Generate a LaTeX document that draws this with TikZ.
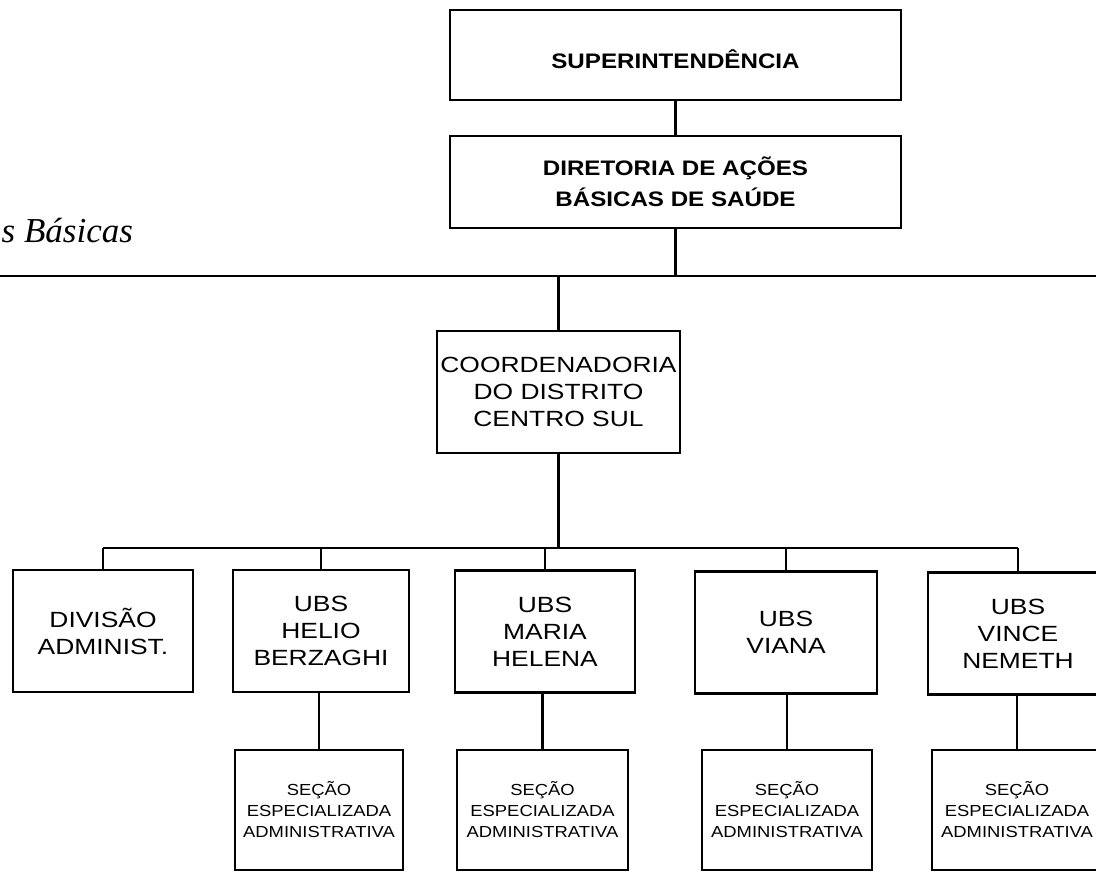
\documentclass[tikz,border=0pt]{standalone}
\usepackage{fontspec}
\setmainfont{Liberation Sans}
\newfontfamily\boxfont[FakeStretch=1.15]{Liberation Sans}
\newfontfamily\wideboxfont[FakeStretch=1.2]{Liberation Sans}
\newfontfamily\seriffont{Liberation Serif}
\begin{document}
\begin{tikzpicture}[x=1pt,y=-1pt,
  box/.style={draw, line width=2.6pt, rectangle, inner sep=0pt, align=center,
    font=\wideboxfont\fontsize{22}{27}\selectfont},
  bbox/.style={box, font=\boxfont\bfseries\fontsize{21}{31}\selectfont},
  sbox/.style={box, font=\boxfont\fontsize{16}{21}\selectfont,
    minimum height=120pt},
  ubox/.style={box, minimum height=122pt},
  conn/.style={line width=2.4pt}]
\useasboundingbox (0,0) rectangle (1096,872);
\clip (0,0) rectangle (1096,872);

% top boxes
\node[bbox, minimum width=451pt, minimum height=90pt, text height=28pt, text depth=0pt] (sup) at (675.5,55) {SUPERINTENDÊNCIA};
\node[bbox, minimum width=451pt, minimum height=92pt] (dir) at (675.5,182) {DIRETORIA DE AÇÕES\\BÁSICAS DE SAÚDE};

% italic caption
\node[font=\seriffont\itshape\fontsize{35}{40}\selectfont, anchor=base west, inner sep=0pt] (lbl) at (1.5,243) {s Básicas};

% horizontal rule
\coordinate (hl) at (0,276);
\coordinate (hr) at (1096,276);

% coordenadoria
\node[box, minimum width=243pt, minimum height=122pt] (coord) at (558.5,392) {COORDENADORIA\\DO DISTRITO\\CENTRO SUL};

% bus
\coordinate (busy) at (0,548);

% second row
\node[ubox, minimum width=180pt] (div) at (103,631) {DIVISÃO\\ADMINIST.};
\node[ubox, minimum width=176pt] (helio) at (321,631) {UBS\\HELIO\\BERZAGHI};
\node[ubox, minimum width=180pt] (maria) at (545,631.5) {UBS\\MARIA\\HELENA};
\node[ubox, minimum width=182pt] (viana) at (786,632.5) {UBS\\VIANA};
\node[ubox, minimum width=180pt] (vince) at (1018,633.5) {UBS\\VINCE\\NEMETH};

% third row
\node[sbox, minimum width=168pt] (s1) at (319,810) {SEÇÃO\\ESPECIALIZADA\\ADMINISTRATIVA};
\node[sbox, minimum width=171pt] (s2) at (542.5,810) {SEÇÃO\\ESPECIALIZADA\\ADMINISTRATIVA};
\node[sbox, minimum width=170pt] (s3) at (787,810) {SEÇÃO\\ESPECIALIZADA\\ADMINISTRATIVA};
\node[sbox, minimum width=170pt] (s4) at (1017,810) {SEÇÃO\\ESPECIALIZADA\\ADMINISTRATIVA};

% connectors
\draw[conn] (sup) -- (dir);
\draw[conn] (hl) -- (hr);
\draw[conn] (dir.south) -- (dir.south |- hl);
\draw[conn] (coord.north) -- (coord.north |- hl);
\draw[conn] (coord.south) -- (coord.south |- busy);
\draw[conn] (div.north |- busy) -- (vince.north |- busy);
\foreach \n in {div,helio,maria,viana,vince}
  \draw[conn] (\n.north) -- (\n.north |- busy);
\draw[conn] (s1.north) -- (s1.north |- helio.south);
\draw[conn] (s2.north) -- (s2.north |- maria.south);
\draw[conn] (s3.north) -- (s3.north |- viana.south);
\draw[conn] (s4.north) -- (s4.north |- vince.south);
\end{tikzpicture}
\end{document}
